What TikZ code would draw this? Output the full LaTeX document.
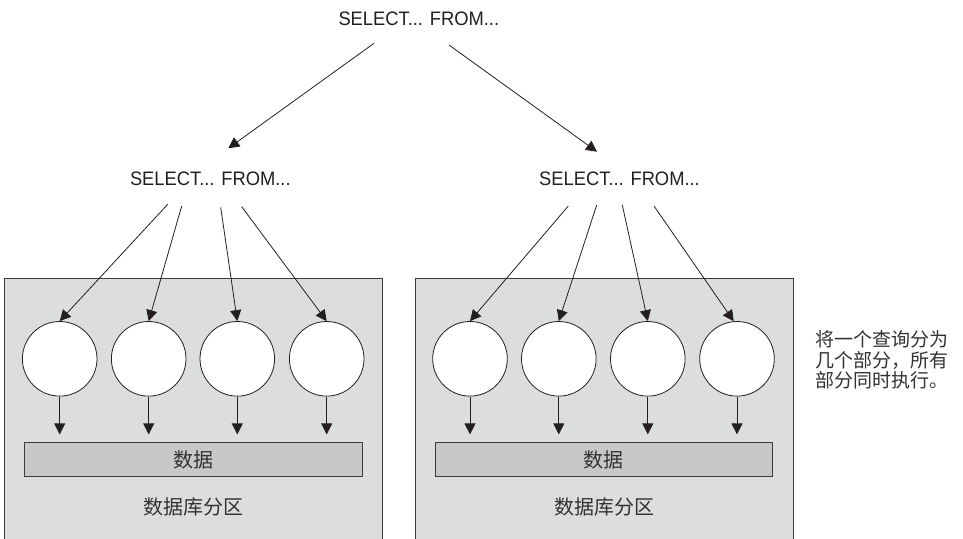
\documentclass[tikz,border=0pt]{standalone}
\usepackage{fontspec}
\setmainfont{Liberation Sans}
\newfontfamily\selfont[FakeStretch=0.94]{Liberation Sans}
\newfontfamily\cjk{Noto Sans CJK SC}
\usetikzlibrary{arrows.meta,shapes.geometric}
\definecolor{ink}{RGB}{35,31,32}
\definecolor{cjkink}{RGB}{50,50,50}
\definecolor{partgray}{RGB}{220,221,223}
\definecolor{datagray}{RGB}{200,200,202}
\definecolor{edgegray}{RGB}{60,60,60}
\begin{document}
\begin{tikzpicture}[x=1pt,y=-1pt,
  lab/.style={font=\selfont\fontsize{19.5}{22}\selectfont, text=ink, inner sep=0pt},
  cjklab/.style={font=\cjk\fontsize{20}{23}\selectfont, text=cjkink, inner sep=0pt},
  arr/.style={draw=ink, line width=0.8pt, -{Triangle[length=11pt,width=11pt]}},
  part/.style={fill=partgray, draw=none, inner sep=0pt, anchor=north west},
  ball/.style={circle, draw=ink, line width=0.8pt, fill=white, minimum size=74.6pt, inner sep=0pt},
  databox/.style={rectangle, draw=edgegray, line width=0.8pt, fill=datagray, minimum height=34.4pt, inner sep=0pt, font=\cjk\fontsize{20}{23}\selectfont, text=cjkink}
]
\useasboundingbox (0,0) rectangle (963,538);

% partitions
\node[part, minimum width=377.7pt, minimum height=260pt] (p1) at (4,278.3) {};
\node[part, minimum width=377.7pt, minimum height=260pt] (p2) at (415,278.3) {};
\draw[edgegray, line width=0.8pt] (p1.south west) |- (p1.north east) -- (p1.south east);
\draw[edgegray, line width=0.8pt] (p2.south west) |- (p2.north east) -- (p2.south east);

% query texts
\node[lab] (top) at (418.8,19) {SELECT... FROM...};
\node[lab] (ml) at (210.3,179) {SELECT... FROM...};
\node[lab] (mr) at (619.5,179) {SELECT... FROM...};

% circles
\node[ball] (a1) at (59.7,358.8) {};
\node[ball] (a2) at (148.7,358.8) {};
\node[ball] (a3) at (237.3,358.8) {};
\node[ball] (a4) at (326.7,358.8) {};
\node[ball] (b1) at (470,358.8) {};
\node[ball] (b2) at (558.8,358.8) {};
\node[ball] (b3) at (647.8,358.8) {};
\node[ball] (b4) at (737,358.8) {};

% data boxes
\node[databox, minimum width=338pt] (d1) at (193,459.5) {数据};
\node[databox, minimum width=337.7pt] (d2) at (603.9,459.5) {数据};

% partition labels
\node[cjklab] (pl1) at (193,507) {数据库分区};
\node[cjklab] (pl2) at (604,507) {数据库分区};

% note
\node[font=\cjk\fontsize{19}{20.5}\selectfont, text=cjkink, align=left, inner sep=0pt] (note) at (881.7,360) {将一个查询分为\\几个部分，所有\\部分同时执行。};

% top arrows
\coordinate (t1) at (374,43.3);
\coordinate (t1e) at (228.3,148.3);
\coordinate (t2) at (449,45);
\coordinate (t2e) at (597,151.7);
\draw[arr] (t1) -- (t1e);
\draw[arr] (t2) -- (t2e);

% fan starts
\coordinate (l1) at (167.7,204.3);
\coordinate (l2) at (181.7,206);
\coordinate (l3) at (220.7,207.3);
\coordinate (l4) at (241.7,206.7);
\coordinate (r1) at (568.3,206);
\coordinate (r2) at (596.7,205);
\coordinate (r3) at (622.3,205);
\coordinate (r4) at (654,206);
\draw[arr] (l1) -- (a1.north);
\draw[arr] (l2) -- (a2.north);
\draw[arr] (l3) -- (a3.north);
\draw[arr] (l4) -- (a4.north);
\draw[arr] (r1) -- (b1.north);
\draw[arr] (r2) -- (b2.north);
\draw[arr] (r3) -- (b3.north);
\draw[arr] (r4) -- (b4.95);

% down arrows
\foreach \n in {a1,a2,a3,a4}{
  \draw[arr, shorten >=7.5pt] (\n.south) -- (\n.south |- d1.north);
}
\foreach \n in {b1,b2,b3,b4}{
  \draw[arr, shorten >=7.5pt] (\n.south) -- (\n.south |- d2.north);
}
\end{tikzpicture}
\end{document}
